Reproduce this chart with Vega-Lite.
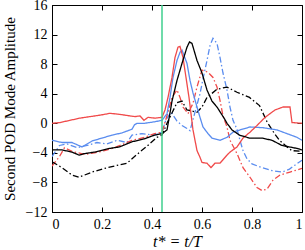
{
  "$schema": "https://vega.github.io/schema/vega-lite/v6.json",
  "width": 250,
  "height": 207,
  "autosize": {"type": "none"},
  "padding": {"left": 52, "top": 5, "right": 3, "bottom": 38},
  "config": {
    "view": {"stroke": "black", "strokeWidth": 1},
    "axis": {"grid": false, "domainColor": "black", "tickColor": "black", "labelFont": "Liberation Serif", "titleFont": "Liberation Serif", "labelFontSize": 14, "titleFontSize": 15, "labelColor": "black", "titleColor": "black", "titleFontWeight": "normal", "tickSize": -5, "labelPadding": 10}
  },
  "datasets": {
    "lines": [
      {"s": "bdd", "t": 0, "v": -4.5}, {"s": "bdd", "t": 0.03, "v": -3.0}, {"s": "bdd", "t": 0.06, "v": -2.8}, {"s": "bdd", "t": 0.1, "v": -3.3}, {"s": "bdd", "t": 0.14, "v": -3.0}, {"s": "bdd", "t": 0.18, "v": -2.6}, {"s": "bdd", "t": 0.22, "v": -2.8}, {"s": "bdd", "t": 0.26, "v": -2.3}, {"s": "bdd", "t": 0.3, "v": -2.6}, {"s": "bdd", "t": 0.32, "v": -1.6}, {"s": "bdd", "t": 0.36, "v": -1.4}, {"s": "bdd", "t": 0.41, "v": -1.6}, {"s": "bdd", "t": 0.44, "v": -1.2}, {"s": "bdd", "t": 0.456, "v": 0.5}, {"s": "bdd", "t": 0.476, "v": 1.5}, {"s": "bdd", "t": 0.5, "v": 0.3}, {"s": "bdd", "t": 0.52, "v": -0.3}, {"s": "bdd", "t": 0.54, "v": -0.7}, {"s": "bdd", "t": 0.552, "v": -1.0}, {"s": "bdd", "t": 0.564, "v": 0.5}, {"s": "bdd", "t": 0.58, "v": 2.5}, {"s": "bdd", "t": 0.592, "v": 4.0}, {"s": "bdd", "t": 0.604, "v": 6.0}, {"s": "bdd", "t": 0.62, "v": 8.5}, {"s": "bdd", "t": 0.632, "v": 10.5}, {"s": "bdd", "t": 0.644, "v": 11.5}, {"s": "bdd", "t": 0.66, "v": 10.8}, {"s": "bdd", "t": 0.672, "v": 8.9}, {"s": "bdd", "t": 0.684, "v": 6.8}, {"s": "bdd", "t": 0.7, "v": 4.5}, {"s": "bdd", "t": 0.712, "v": 2.2}, {"s": "bdd", "t": 0.724, "v": 0.4}, {"s": "bdd", "t": 0.74, "v": -0.8}, {"s": "bdd", "t": 0.752, "v": -2.3}, {"s": "bdd", "t": 0.764, "v": -3.7}, {"s": "bdd", "t": 0.78, "v": -4.8}, {"s": "bdd", "t": 0.8, "v": -5.5}, {"s": "bdd", "t": 0.84, "v": -6.0}, {"s": "bdd", "t": 0.88, "v": -6.4}, {"s": "bdd", "t": 0.92, "v": -6.6}, {"s": "bdd", "t": 0.95, "v": -6.2}, {"s": "bdd", "t": 0.97, "v": -5.7}, {"s": "bdd", "t": 1.0, "v": -5.0},

      {"s": "rdd", "t": 0, "v": -5.8}, {"s": "rdd", "t": 0.03, "v": -4.5}, {"s": "rdd", "t": 0.05, "v": -3.3}, {"s": "rdd", "t": 0.08, "v": -3.8}, {"s": "rdd", "t": 0.13, "v": -4.2}, {"s": "rdd", "t": 0.17, "v": -4.0}, {"s": "rdd", "t": 0.21, "v": -3.7}, {"s": "rdd", "t": 0.24, "v": -3.4}, {"s": "rdd", "t": 0.28, "v": -2.9}, {"s": "rdd", "t": 0.32, "v": -2.3}, {"s": "rdd", "t": 0.37, "v": -1.9}, {"s": "rdd", "t": 0.41, "v": -1.4}, {"s": "rdd", "t": 0.44, "v": -1.2}, {"s": "rdd", "t": 0.464, "v": 1.5}, {"s": "rdd", "t": 0.48, "v": 3.5}, {"s": "rdd", "t": 0.5, "v": 4.5}, {"s": "rdd", "t": 0.512, "v": 3.5}, {"s": "rdd", "t": 0.524, "v": 2.2}, {"s": "rdd", "t": 0.544, "v": 1.3}, {"s": "rdd", "t": 0.564, "v": 2.7}, {"s": "rdd", "t": 0.58, "v": 4.9}, {"s": "rdd", "t": 0.6, "v": 7.2}, {"s": "rdd", "t": 0.624, "v": 6.9}, {"s": "rdd", "t": 0.644, "v": 6.2}, {"s": "rdd", "t": 0.66, "v": 4.9}, {"s": "rdd", "t": 0.672, "v": 3.1}, {"s": "rdd", "t": 0.684, "v": 1.0}, {"s": "rdd", "t": 0.7, "v": -0.5}, {"s": "rdd", "t": 0.712, "v": -2.3}, {"s": "rdd", "t": 0.74, "v": -4.1}, {"s": "rdd", "t": 0.764, "v": -6.0}, {"s": "rdd", "t": 0.792, "v": -7.3}, {"s": "rdd", "t": 0.82, "v": -8.7}, {"s": "rdd", "t": 0.84, "v": -9.1}, {"s": "rdd", "t": 0.86, "v": -8.9}, {"s": "rdd", "t": 0.884, "v": -7.7}, {"s": "rdd", "t": 0.912, "v": -7.0}, {"s": "rdd", "t": 0.952, "v": -6.6}, {"s": "rdd", "t": 1.0, "v": -6.1},

      {"s": "kdd", "t": 0, "v": -5.2}, {"s": "kdd", "t": 0.04, "v": -6.0}, {"s": "kdd", "t": 0.08, "v": -7.0}, {"s": "kdd", "t": 0.108, "v": -7.3}, {"s": "kdd", "t": 0.16, "v": -6.6}, {"s": "kdd", "t": 0.21, "v": -6.1}, {"s": "kdd", "t": 0.26, "v": -5.7}, {"s": "kdd", "t": 0.3, "v": -5.4}, {"s": "kdd", "t": 0.34, "v": -4.2}, {"s": "kdd", "t": 0.38, "v": -3.1}, {"s": "kdd", "t": 0.42, "v": -1.9}, {"s": "kdd", "t": 0.44, "v": -1.6}, {"s": "kdd", "t": 0.46, "v": 0}, {"s": "kdd", "t": 0.5, "v": 2.8}, {"s": "kdd", "t": 0.52, "v": 3.0}, {"s": "kdd", "t": 0.54, "v": 1.8}, {"s": "kdd", "t": 0.58, "v": 1.5}, {"s": "kdd", "t": 0.6, "v": 2.2}, {"s": "kdd", "t": 0.62, "v": 3.5}, {"s": "kdd", "t": 0.66, "v": 4.6}, {"s": "kdd", "t": 0.7, "v": 4.9}, {"s": "kdd", "t": 0.74, "v": 4.2}, {"s": "kdd", "t": 0.79, "v": 3.5}, {"s": "kdd", "t": 0.83, "v": 2.4}, {"s": "kdd", "t": 0.86, "v": 0.2}, {"s": "kdd", "t": 0.89, "v": -1.4}, {"s": "kdd", "t": 0.91, "v": -2.3}, {"s": "kdd", "t": 0.94, "v": -3.2}, {"s": "kdd", "t": 0.96, "v": -3.7}, {"s": "kdd", "t": 1.0, "v": -3.8},

      {"s": "b", "t": 0, "v": -2.3}, {"s": "b", "t": 0.04, "v": -2.6}, {"s": "b", "t": 0.08, "v": -2.6}, {"s": "b", "t": 0.12, "v": -3.2}, {"s": "b", "t": 0.16, "v": -2.4}, {"s": "b", "t": 0.2, "v": -2.0}, {"s": "b", "t": 0.24, "v": -1.6}, {"s": "b", "t": 0.28, "v": -1.3}, {"s": "b", "t": 0.32, "v": -0.8}, {"s": "b", "t": 0.33, "v": -0.2}, {"s": "b", "t": 0.34, "v": 0}, {"s": "b", "t": 0.37, "v": 0}, {"s": "b", "t": 0.41, "v": 0.2}, {"s": "b", "t": 0.44, "v": 0.4}, {"s": "b", "t": 0.46, "v": 1.3}, {"s": "b", "t": 0.472, "v": 3.5}, {"s": "b", "t": 0.484, "v": 6.2}, {"s": "b", "t": 0.5, "v": 8.5}, {"s": "b", "t": 0.512, "v": 9.6}, {"s": "b", "t": 0.52, "v": 9.9}, {"s": "b", "t": 0.54, "v": 8.1}, {"s": "b", "t": 0.552, "v": 5.8}, {"s": "b", "t": 0.564, "v": 4.1}, {"s": "b", "t": 0.58, "v": 2.2}, {"s": "b", "t": 0.592, "v": 0.8}, {"s": "b", "t": 0.604, "v": -0.5}, {"s": "b", "t": 0.624, "v": -1.4}, {"s": "b", "t": 0.64, "v": -2.0}, {"s": "b", "t": 0.672, "v": -2.3}, {"s": "b", "t": 0.7, "v": -1.9}, {"s": "b", "t": 0.724, "v": -1.2}, {"s": "b", "t": 0.752, "v": -0.9}, {"s": "b", "t": 0.792, "v": -0.5}, {"s": "b", "t": 0.844, "v": -0.6}, {"s": "b", "t": 0.9, "v": -0.9}, {"s": "b", "t": 0.94, "v": -1.4}, {"s": "b", "t": 0.98, "v": -1.9}, {"s": "b", "t": 1.0, "v": -2.3},

      {"s": "r", "t": 0, "v": 0}, {"s": "r", "t": 0.032, "v": 0.1}, {"s": "r", "t": 0.112, "v": 0.7}, {"s": "r", "t": 0.192, "v": 1.1}, {"s": "r", "t": 0.232, "v": 1.35}, {"s": "r", "t": 0.272, "v": 1.2}, {"s": "r", "t": 0.332, "v": 0.9}, {"s": "r", "t": 0.352, "v": 1.0}, {"s": "r", "t": 0.368, "v": 0.4}, {"s": "r", "t": 0.384, "v": 0.8}, {"s": "r", "t": 0.412, "v": 0.7}, {"s": "r", "t": 0.44, "v": 0.8}, {"s": "r", "t": 0.452, "v": 1.8}, {"s": "r", "t": 0.464, "v": 3.5}, {"s": "r", "t": 0.48, "v": 6.2}, {"s": "r", "t": 0.492, "v": 8.9}, {"s": "r", "t": 0.504, "v": 10.3}, {"s": "r", "t": 0.512, "v": 10.4}, {"s": "r", "t": 0.524, "v": 8.9}, {"s": "r", "t": 0.548, "v": 3.5}, {"s": "r", "t": 0.564, "v": -0.9}, {"s": "r", "t": 0.58, "v": -3.7}, {"s": "r", "t": 0.592, "v": -4.6}, {"s": "r", "t": 0.6, "v": -5.3}, {"s": "r", "t": 0.62, "v": -5.4}, {"s": "r", "t": 0.636, "v": -6.0}, {"s": "r", "t": 0.652, "v": -5.4}, {"s": "r", "t": 0.672, "v": -5.4}, {"s": "r", "t": 0.7, "v": -4.3}, {"s": "r", "t": 0.712, "v": -3.9}, {"s": "r", "t": 0.74, "v": -3.2}, {"s": "r", "t": 0.764, "v": -2.0}, {"s": "r", "t": 0.792, "v": -1.2}, {"s": "r", "t": 0.82, "v": -0.3}, {"s": "r", "t": 0.852, "v": 0.8}, {"s": "r", "t": 0.892, "v": 1.8}, {"s": "r", "t": 0.924, "v": 2.2}, {"s": "r", "t": 0.952, "v": 2.2}, {"s": "r", "t": 0.96, "v": 0.1}, {"s": "r", "t": 1.0, "v": 0},

      {"s": "k", "t": 0, "v": -3.6}, {"s": "k", "t": 0.04, "v": -3.6}, {"s": "k", "t": 0.08, "v": -3.9}, {"s": "k", "t": 0.108, "v": -4.3}, {"s": "k", "t": 0.13, "v": -4.1}, {"s": "k", "t": 0.17, "v": -3.9}, {"s": "k", "t": 0.23, "v": -3.4}, {"s": "k", "t": 0.27, "v": -3.2}, {"s": "k", "t": 0.32, "v": -2.5}, {"s": "k", "t": 0.37, "v": -2.1}, {"s": "k", "t": 0.41, "v": -1.6}, {"s": "k", "t": 0.44, "v": -1.4}, {"s": "k", "t": 0.46, "v": -0.9}, {"s": "k", "t": 0.47, "v": 1.0}, {"s": "k", "t": 0.48, "v": 3.0}, {"s": "k", "t": 0.5, "v": 5.8}, {"s": "k", "t": 0.52, "v": 8.1}, {"s": "k", "t": 0.54, "v": 10.3}, {"s": "k", "t": 0.55, "v": 11.0}, {"s": "k", "t": 0.56, "v": 10.8}, {"s": "k", "t": 0.58, "v": 8.5}, {"s": "k", "t": 0.6, "v": 6.8}, {"s": "k", "t": 0.62, "v": 4.5}, {"s": "k", "t": 0.64, "v": 3.0}, {"s": "k", "t": 0.66, "v": 2.2}, {"s": "k", "t": 0.69, "v": 0.6}, {"s": "k", "t": 0.7, "v": 0}, {"s": "k", "t": 0.72, "v": -0.9}, {"s": "k", "t": 0.75, "v": -1.6}, {"s": "k", "t": 0.79, "v": -2.0}, {"s": "k", "t": 0.84, "v": -2.0}, {"s": "k", "t": 0.88, "v": -2.3}, {"s": "k", "t": 0.92, "v": -3.0}, {"s": "k", "t": 0.98, "v": -3.4}, {"s": "k", "t": 1.0, "v": -3.6}
    ],
    "marker": [{"t": 0.44}]
  },
  "layer": [
    {
      "data": {"name": "lines"},
      "mark": {"type": "line", "strokeWidth": 1.3, "clip": true},
      "encoding": {
        "x": {"field": "t", "type": "quantitative", "scale": {"domain": [0, 1], "nice": false}, "axis": {"orient": "bottom", "values": [0, 0.2, 0.4, 0.6, 0.8, 1], "format": "~g", "title": "t* = t/T", "titleFontStyle": "italic", "titleFontSize": 16, "titlePadding": 2}},
        "y": {"field": "v", "type": "quantitative", "scale": {"domain": [-12, 16], "nice": false}, "axis": {"orient": "left", "values": [-12, -8, -4, 0, 4, 8, 12, 16], "title": "Second POD Mode Amplitude", "titlePadding": 8}},
        "color": {"field": "s", "type": "nominal", "legend": null, "scale": {"domain": ["bdd", "rdd", "kdd", "b", "r", "k"], "range": ["#5b8def", "#f04a4a", "#000000", "#5b8def", "#f04a4a", "#000000"]}},
        "strokeDash": {"field": "s", "type": "nominal", "legend": null, "scale": {"domain": ["bdd", "rdd", "kdd", "b", "r", "k"], "range": [[6, 2.5, 1.5, 2.5], [6, 2.5, 1.5, 2.5], [6, 2.5, 1.5, 2.5], [1, 0], [1, 0], [1, 0]]}}
      }
    },
    {
      "data": {"name": "marker"},
      "mark": {"type": "rule", "color": "#3fcf8e", "strokeWidth": 1.5},
      "encoding": {
        "x": {"field": "t", "type": "quantitative", "axis": {"orient": "top", "values": [0, 0.2, 0.4, 0.6, 0.8, 1], "labels": false, "title": null, "domain": false}},
        "y": {"datum": -12, "type": "quantitative", "axis": {"orient": "right", "values": [-12, -8, -4, 0, 4, 8, 12, 16], "labels": false, "title": null, "domain": false}},
        "y2": {"datum": 16}
      }
    }
  ],
  "resolve": {"axis": {"x": "independent", "y": "independent"}}
}
